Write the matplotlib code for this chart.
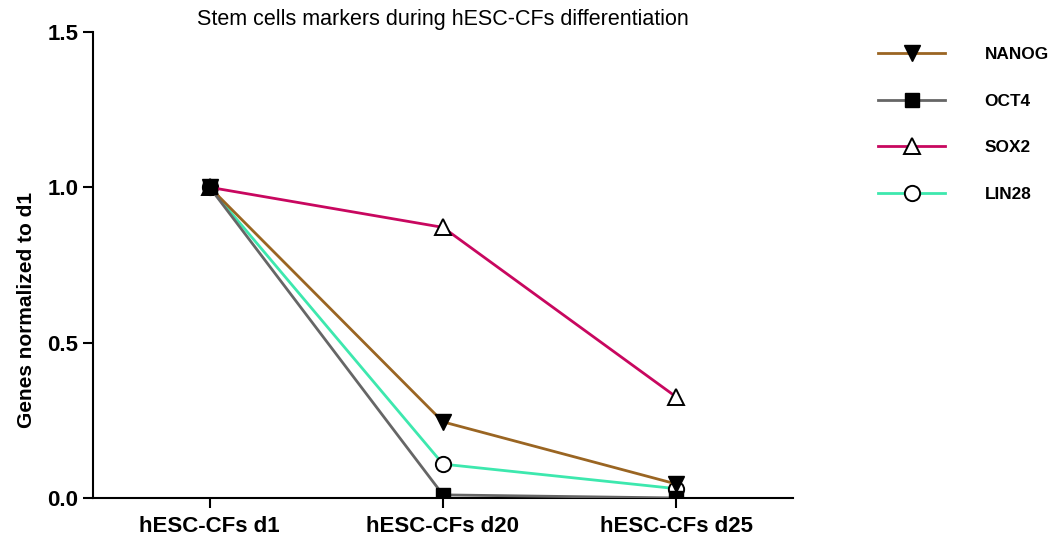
import matplotlib.pyplot as plt
from matplotlib.lines import Line2D

plt.rcParams['font.family'] = ['Liberation Sans', 'DejaVu Sans']

# Values (normalized to d1)
days = ["hESC-CFs d1", "hESC-CFs d20", "hESC-CFs d25"]
nanog = [1.0, 0.245, 0.045]
oct4 = [1.0, 0.01, 0.0]
sox2 = [1.0, 0.871, 0.325]
lin28 = [1.0, 0.109, 0.03]

fig = plt.figure(figsize=(10.51, 5.40), dpi=100)
ax = fig.add_axes([0.0885, 0.0778, 0.666, 0.863])

x = range(len(days))
lw = 2.0
ax.plot(x, lin28, color="#3DE8AE", lw=lw, marker="o", ms=11, mfc="white",
        mec="black", mew=1.4, label="LIN28", zorder=3)
ax.plot(x, sox2, color="#C8075F", lw=lw, marker="^", ms=11, mfc="white",
        mec="black", mew=1.4, label="SOX2", zorder=3)
ax.plot(x, nanog, color="#9A6522", lw=lw, marker="v", ms=11, mfc="black",
        mec="black", label="NANOG", zorder=4)
ax.plot(x, oct4, color="#666666", lw=lw, marker="s", ms=10, mfc="black",
        mec="black", label="OCT4", zorder=5)

ax.set_xlim(-0.5, 2.5)
ax.set_ylim(0, 1.5)
ax.set_xticks(list(x))
ax.set_xticklabels(days, fontsize=16, fontweight="bold")
ax.set_yticks([0, 0.5, 1.0, 1.5])
ax.set_yticklabels(["0.0", "0.5", "1.0", "1.5"], fontsize=16, fontweight="bold")
ax.tick_params(direction="out", length=7, width=1.5, pad=3.5)
ax.tick_params(axis="x", pad=6)
for s in ["top", "right"]:
    ax.spines[s].set_visible(False)
for s in ["left", "bottom"]:
    ax.spines[s].set_linewidth(1.5)
ax.set_ylabel("Genes normalized to d1", fontsize=15, fontweight="bold")
ax.yaxis.set_label_coords(-0.081, 0.403)
ax.set_title("Stem cells markers during hESC-CFs differentiation", fontsize=15.5, pad=5)

handles = [
    Line2D([], [], color="#9A6522", lw=lw, marker="v", ms=11, mfc="black", mec="black"),
    Line2D([], [], color="#666666", lw=lw, marker="s", ms=10, mfc="black", mec="black"),
    Line2D([], [], color="#C8075F", lw=lw, marker="^", ms=11, mfc="white", mec="black", mew=1.4),
    Line2D([], [], color="#3DE8AE", lw=lw, marker="o", ms=11, mfc="white", mec="black", mew=1.4),
]
fig.legend(handles, ["NANOG", "OCT4", "SOX2", "LIN28"], loc="upper left",
           bbox_to_anchor=(0.8288, 0.925), frameon=False, handlelength=3.9,
           handletextpad=2.3, labelspacing=1.82, borderaxespad=0,
           prop={"weight": "bold", "size": 12.4})

fig.savefig("out.png", dpi=100)
